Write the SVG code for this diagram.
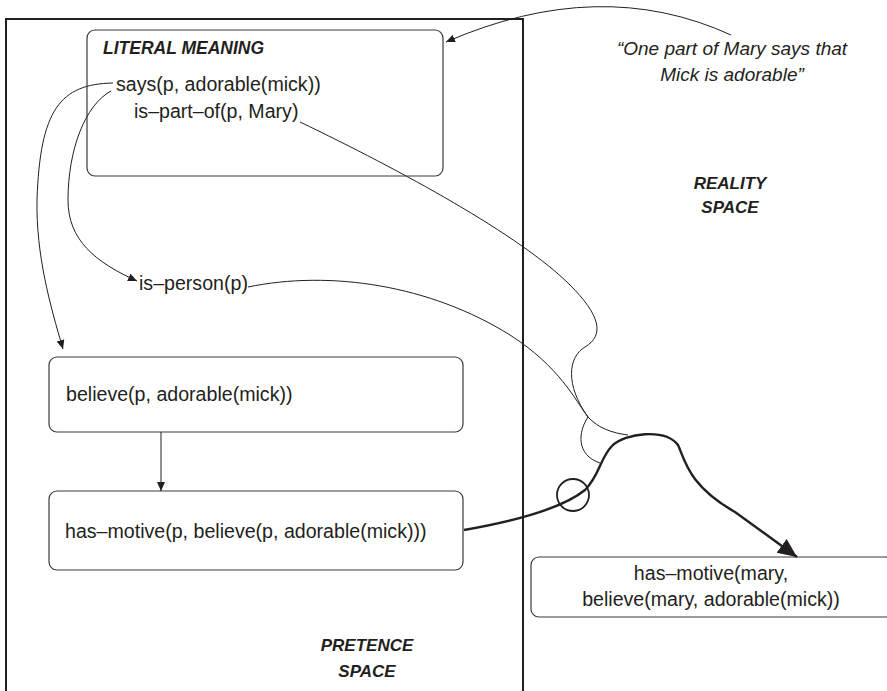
<svg xmlns="http://www.w3.org/2000/svg" width="887" height="691" viewBox="0 0 887 691">
<style>
text{font-family:"Liberation Sans",Arial,sans-serif;fill:#231f20}
.t{font-size:19.6px}
.h{font-size:17px;font-weight:bold;font-style:italic}
.q{font-size:19px;font-style:italic}
.box{fill:none;stroke:#3a3a3a;stroke-width:1.2}
.ln{fill:none;stroke:#231f20;stroke-width:1}
.thick{fill:none;stroke:#231f20;stroke-width:2.4}
</style>
<defs>
<marker id="ah" markerUnits="userSpaceOnUse" markerWidth="10" markerHeight="9" refX="9" refY="4" orient="auto">
<path d="M0,0 L9,4 L0,8 z" fill="#231f20"/>
</marker>
<marker id="big" markerUnits="userSpaceOnUse" markerWidth="20" markerHeight="18" refX="19" refY="8.5" orient="auto">
<path d="M0,0 L19,8.5 L0,17 z" fill="#231f20"/>
</marker>
</defs>
<g id="pretence-space">
<rect x="6" y="19" width="517" height="700" fill="none" stroke="#231f20" stroke-width="2"/>
<text class="h" x="367" y="651" text-anchor="middle">PRETENCE</text>
<text class="h" x="367" y="677" text-anchor="middle">SPACE</text>
</g>
<g id="reality-space">
<text class="h" x="730" y="189" text-anchor="middle">REALITY</text>
<text class="h" x="730" y="213" text-anchor="middle">SPACE</text>
</g>
<g id="quote">
<text class="q" x="732" y="55" text-anchor="middle">“One part of Mary says that</text>
<text class="q" x="732" y="81" text-anchor="middle">Mick is adorable”</text>
</g>
<g id="literal-meaning">
<rect class="box" x="87" y="30" width="356" height="146" rx="8"/>
<text class="h" x="103" y="54" style="font-size:17.5px">LITERAL MEANING</text>
<text class="t" x="116" y="91">says(p, adorable(mick))</text>
<text class="t" x="134" y="118">is–part–of(p, Mary)</text>
</g>
<g id="is-person">
<text class="t" x="139" y="290">is–person(p)</text>
</g>
<g id="believe">
<rect class="box" x="49" y="357" width="414" height="75" rx="8"/>
<text class="t" x="66" y="401">believe(p, adorable(mick))</text>
</g>
<g id="has-motive-p">
<rect class="box" x="49" y="491" width="414" height="79" rx="8"/>
<text class="t" x="65" y="538">has–motive(p, believe(p, adorable(mick)))</text>
</g>
<g id="has-motive-mary">
<rect class="box" x="531" y="557" width="362" height="60" rx="8"/>
<text class="t" x="711" y="580" text-anchor="middle">has–motive(mary,</text>
<text class="t" x="711" y="606" text-anchor="middle">believe(mary, adorable(mick))</text>
</g>
<g id="connectors">
<path class="ln" d="M731,35 Q600,-25 446,42" marker-end="url(#ah)"/>
<path class="ln" d="M113,83 C60,84 40,110 37,200 C36,255 50,305 63,349" marker-end="url(#ah)"/>
<path class="ln" d="M111,91 C85,105 68,150 68,200 C68,240 95,262 137,281" marker-end="url(#ah)"/>
<path class="ln" d="M161,432 L161,491" marker-end="url(#ah)"/>
<path class="ln" d="M248,287 C330,270 430,285 510,335 C560,367 575,400 588,417 C598,428 612,433 628,435"/>
<path class="ln" d="M300,122 C400,170 520,235 570,285 C600,315 605,335 585,347 C568,357 565,385 588,417"/>
<path class="ln" d="M588,417 C578,432 576,455 600,463"/>
<path class="thick" d="M464,530 C510,522 560,510 585,490 C600,475 600,458 612,446 C625,433 665,428 678,445 C685,460 688,485 735,512 L797,557" marker-end="url(#big)"/>
<circle cx="573" cy="495" r="16" fill="none" stroke="#231f20" stroke-width="1.8"/>
</g>
</svg>
